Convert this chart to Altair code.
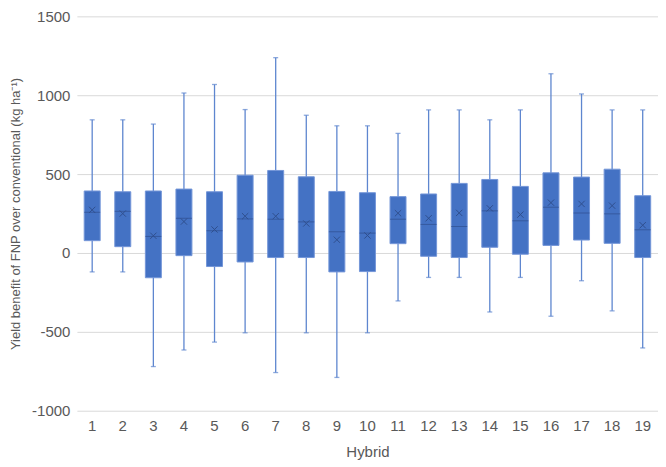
import altair as alt
import pandas as pd

hybrids = [str(i) for i in range(1, 20)]
whisker_low = [-120, -120, -720, -615, -565, -506, -758, -506, -789, -506, -304, -155, -155, -374, -155, -401, -176, -367, -602]
q1 = [78, 40, -157, -17, -86, -57, -29, -29, -120, -118, 59, -21, -29, 36, -8, 48, 82, 61, -29]
median = [258, 264, 105, 220, 141, 216, 214, 197, 134, 126, 214, 181, 168, 267, 204, 290, 254, 248, 147]
mean = [273, 250, 109, 199, 149, 233, 233, 187, 84, 111, 252, 220, 254, 283, 243, 319, 311, 300, 176]
q3 = [393, 388, 393, 405, 388, 493, 523, 483, 390, 382, 357, 374, 441, 466, 422, 508, 481, 531, 363]
whisker_high = [844, 844, 817, 1014, 1068, 909, 1238, 873, 806, 806, 758, 907, 907, 844, 907, 1136, 1008, 907, 907]

df = pd.DataFrame({
    "hybrid": hybrids,
    "low": whisker_low,
    "q1": q1,
    "median": median,
    "mean": mean,
    "q3": q3,
    "high": whisker_high,
})

FONT = "Liberation Sans"
TXT = "#595959"
BLUE = "#4472C4"
WHISK = "#5E86CF"
DARK = "#2F4F8F"

x_enc = alt.X(
    "hybrid:O",
    sort=hybrids,
    title="Hybrid",
    scale=alt.Scale(paddingInner=0, paddingOuter=0),
    axis=alt.Axis(labelAngle=0, ticks=False, domain=False, grid=False,
                  labelPadding=8, titlePadding=11),
)
y_scale = alt.Scale(domain=[-1000, 1500], nice=False)
y_axis = alt.Axis(values=[-1000, -500, 0, 500, 1000, 1500], ticks=False, domain=False,
                  labelExpr="'' + datum.value",
                  gridColor="#D9D9D9", gridWidth=1, labelPadding=7,
                  titleFontSize=13,
                  titleX=-61, titleY=197.5, titleAngle=-90, titleAlign="center",
                  titleBaseline="middle")

base = alt.Chart(df).encode(x=x_enc)

whiskers = base.mark_rule(color=WHISK, strokeWidth=1.3).encode(
    y=alt.Y("low:Q", scale=y_scale, axis=y_axis,
            title="Yield benefit of FNP over conventional (kg ha\u207b\u00b9)"),
    y2="high:Q",
)
cap_low = base.mark_tick(color=WHISK, size=5, thickness=1.3).encode(y=alt.Y("low:Q", scale=y_scale))
cap_high = base.mark_tick(color=WHISK, size=5, thickness=1.3).encode(y=alt.Y("high:Q", scale=y_scale))
boxes = base.mark_bar(size=16, color=BLUE, stroke="#7396D8", strokeWidth=1).encode(
    y=alt.Y("q1:Q", scale=y_scale), y2="q3:Q"
)
medians = base.mark_tick(color=DARK, size=16, thickness=1).encode(y=alt.Y("median:Q", scale=y_scale))
means = base.mark_point(
    shape="M-1,-1L1,1M-1,1L1,-1", size=40, filled=False, color=DARK, strokeWidth=1, opacity=1
).encode(y=alt.Y("mean:Q", scale=y_scale))

chart = alt.layer(whiskers, cap_low, cap_high, boxes, medians, means).properties(
    width=582,
    height=395,
    autosize=alt.AutoSizeParams(type="none"),
    padding={"left": 69, "top": 8, "right": 0, "bottom": 50},
).configure_view(stroke=None).configure_axis(
    labelFont=FONT, titleFont=FONT, labelColor=TXT, titleColor=TXT,
    labelFontSize=15, titleFontSize=15, titleFontWeight="normal",
)

chart.save("out.html", embed_options={"renderer": "svg", "actions": False})
